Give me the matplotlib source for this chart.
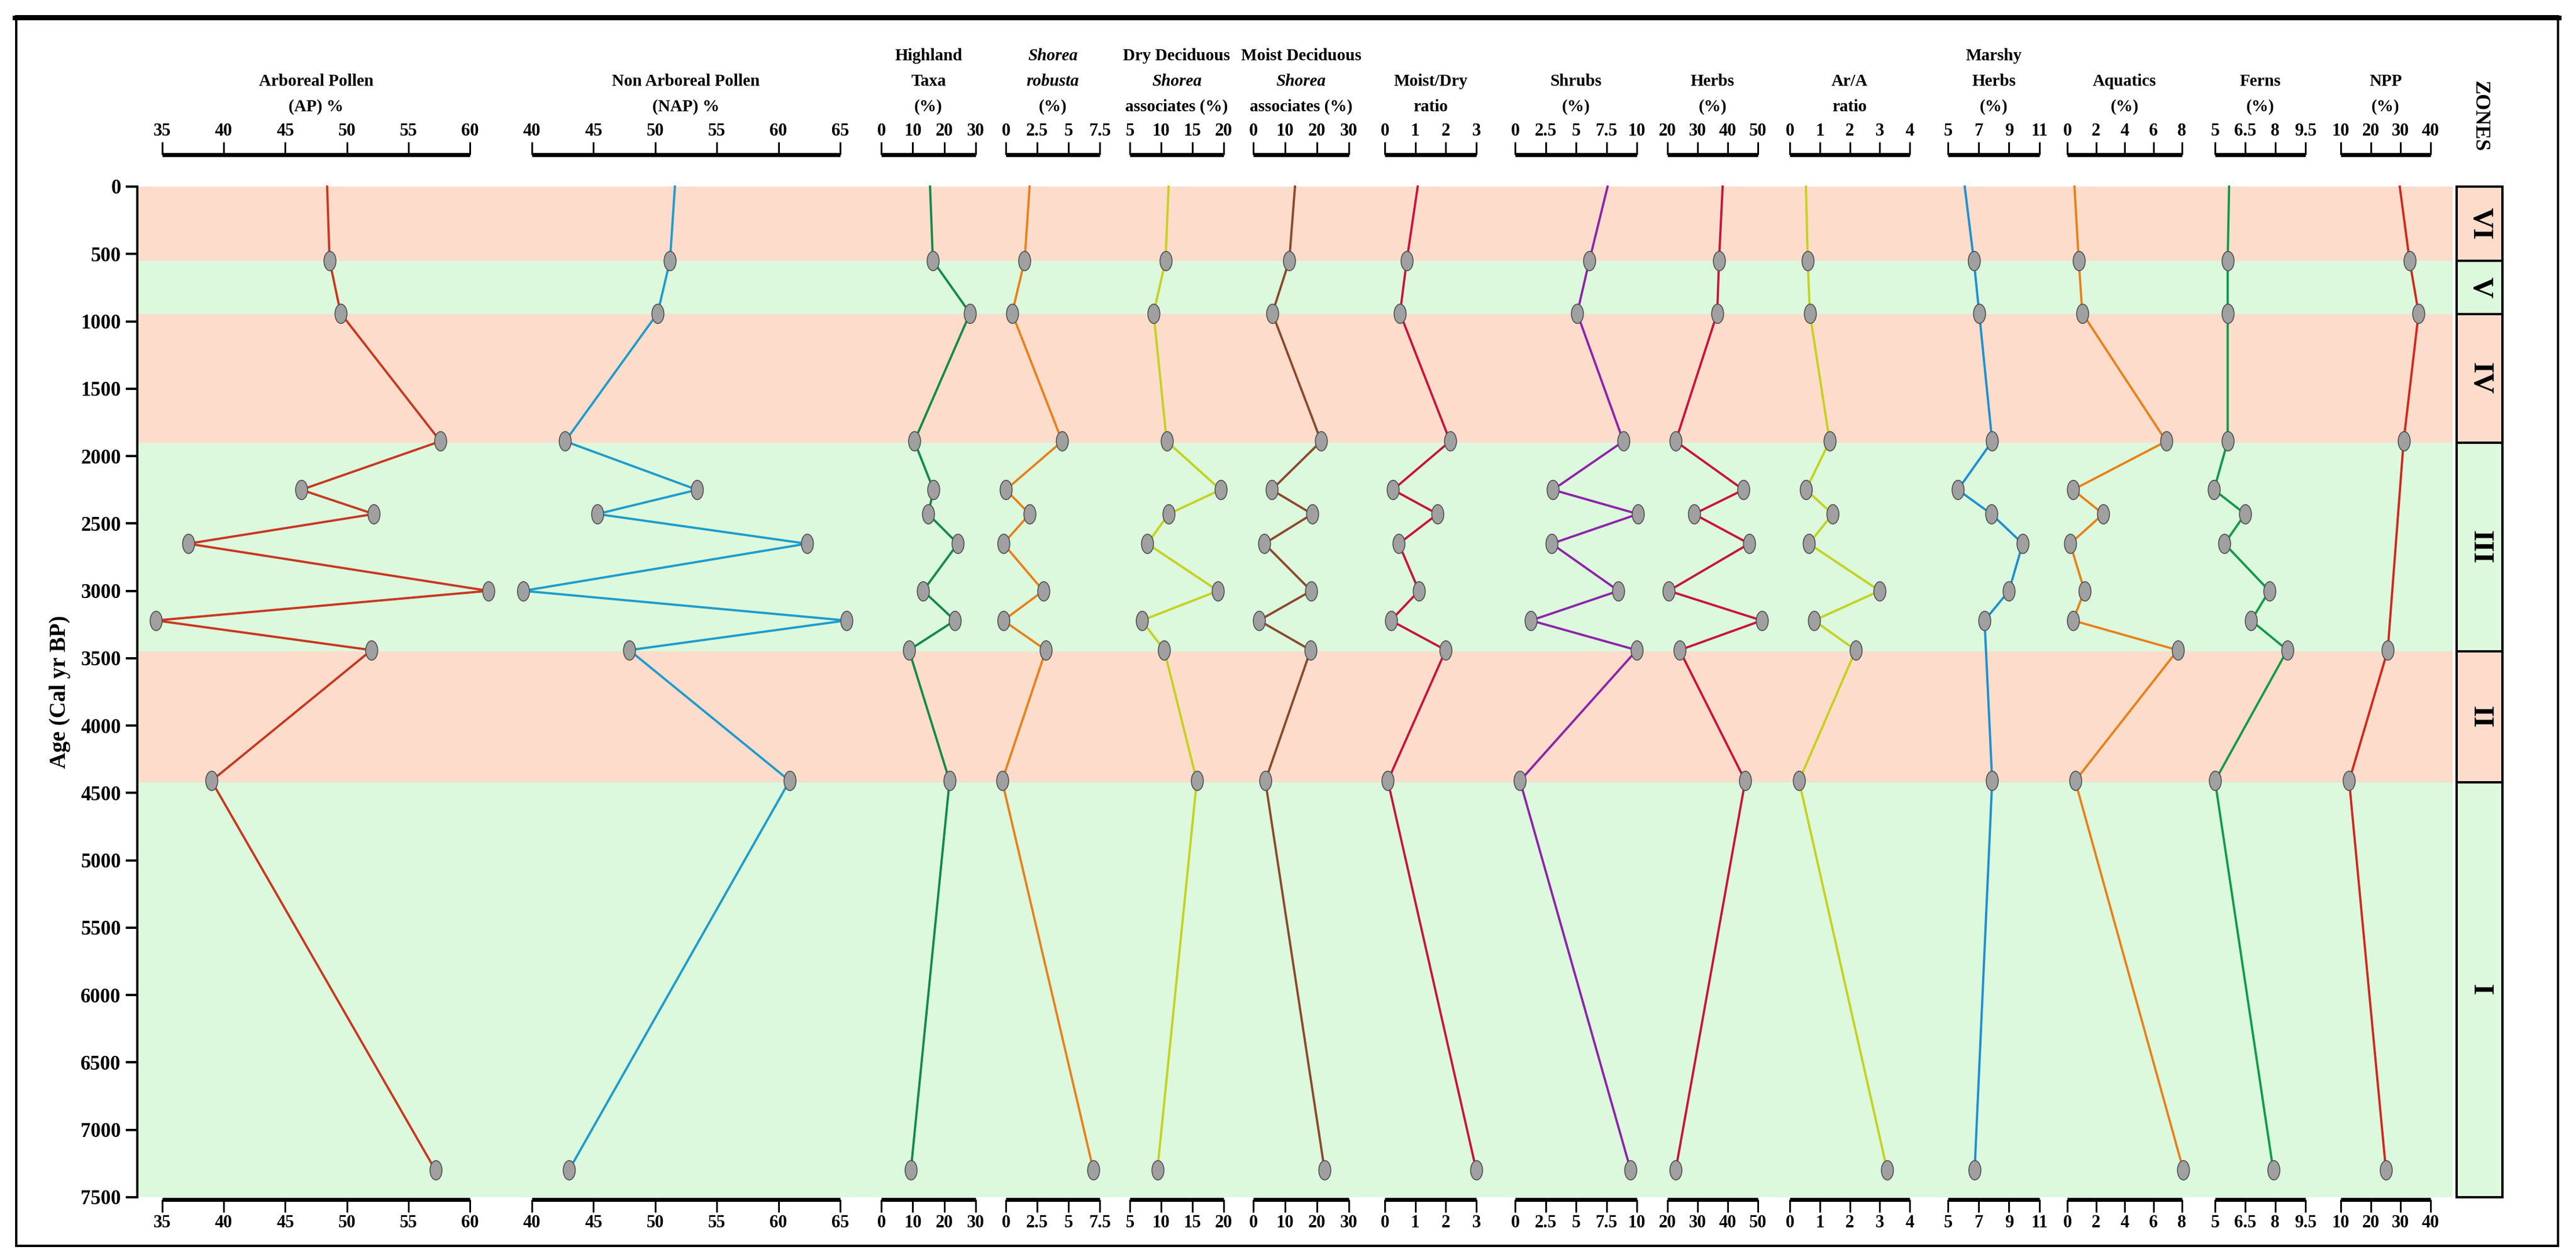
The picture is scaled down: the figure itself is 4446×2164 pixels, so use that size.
import numpy as np
import matplotlib
matplotlib.use("Agg")
import matplotlib.pyplot as plt
from matplotlib.path import Path
from matplotlib.patches import Rectangle

W, H = 4446, 2164
plt.rcParams['font.family'] = ['Liberation Serif', 'DejaVu Serif']
plt.rcParams['font.weight'] = 'bold'

# ---------------- data ----------------
ages = [0, 550, 940, 1890, 2250, 2430, 2650, 3000, 3220, 3440, 4410, 7300]
ap = [48.4, 48.6, 49.5, 57.6, 46.3, 52.2, 37.1, 61.5, 34.5, 52.0, 39.0, 57.2]
nap = [51.6, 51.2, 50.2, 42.7, 53.4, 45.3, 62.3, 39.3, 65.5, 47.9, 60.9, 43.0]
highland = [15.5, 16.4, 28.2, 10.5, 16.6, 14.9, 24.3, 13.3, 23.4, 8.8, 21.7, 9.4]
shorea = [1.9, 1.5, 0.5, 4.5, 0.0, 1.9, -0.2, 3.0, -0.2, 3.2, -0.3, 7.0]
dry_assoc = [11.2, 10.7, 8.8, 10.9, 19.5, 11.2, 7.8, 19.1, 6.9, 10.5, 15.7, 9.4]
moist_assoc = [13.1, 11.3, 6.0, 21.3, 5.8, 18.5, 3.5, 18.2, 1.8, 18.0, 3.8, 22.4]
moist_dry = [1.08, 0.72, 0.5, 2.14, 0.27, 1.73, 0.46, 1.12, 0.2, 2.0, 0.1, 3.0]
shrubs = [7.6, 6.1, 5.1, 8.9, 3.1, 10.1, 3.0, 8.5, 1.3, 10.0, 0.4, 9.5]
herbs = [38.3, 37.1, 36.5, 22.7, 45.2, 28.8, 47.1, 20.4, 51.3, 24.0, 45.8, 22.7]
ar_a = [0.54, 0.6, 0.67, 1.33, 0.54, 1.43, 0.64, 3.0, 0.81, 2.2, 0.31, 3.25]
marshy_ages = [0, 550, 940, 1890, 2250, 2430, 2650, 3000, 3220, 4410, 7300]
marshy = [6.1, 6.7, 7.05, 7.9, 5.65, 7.85, 9.9, 9.0, 7.4, 7.9, 6.75]
aquatics = [0.5, 0.8, 1.05, 6.9, 0.4, 2.5, 0.2, 1.2, 0.4, 7.7, 0.55, 8.1]
ferns = [5.7, 5.63, 5.63, 5.63, 4.95, 6.5, 5.47, 7.7, 6.8, 8.6, 5.0, 7.9]
npp_ages = [0, 550, 940, 1890, 3440, 4410, 7300]
npp = [29.7, 33.0, 36.0, 31.0, 25.7, 12.8, 25.1]

zone_names = ['VI', 'V', 'IV', 'III', 'II', 'I']
zone_bounds = [0, 550, 945, 1900, 3450, 4420, 7500]
zone_colors = ['#FDDCCB', '#DCF8DD', '#FDDCCB', '#DCF8DD', '#FDDCCB', '#DCF8DD']

# panels: (title lines, x0px, x1px, vmin, vmax, ticks, ticklabels, ages, values, colour)
panels = [
    ([('Arboreal Pollen', 'normal'), ('(AP) %', 'normal')], 280, 811, 35, 60,
     [35, 40, 45, 50, 55, 60], None, ages, ap, '#c8381e'),
    ([('Non Arboreal Pollen', 'normal'), ('(NAP) %', 'normal')], 918, 1450, 40, 65,
     [40, 45, 50, 55, 60, 65], None, ages, nap, '#1e9ccc'),
    ([('Highland', 'normal'), ('Taxa', 'normal'), ('(%)', 'normal')], 1521, 1684, 0, 30,
     [0, 10, 20, 30], None, ages, highland, '#138a4a'),
    ([('Shorea', 'italic'), ('robusta', 'italic'), ('(%)', 'normal')], 1736, 1898, 0, 7.5,
     [0, 2.5, 5, 7.5], ['0', '2.5', '5', '7.5'], ages, shorea, '#e8811a'),
    ([('Dry Deciduous', 'normal'), ('Shorea', 'italic'), ('associates (%)', 'normal')], 1950, 2112, 5, 20,
     [5, 10, 15, 20], None, ages, dry_assoc, '#c5d21e'),
    ([('Moist Deciduous', 'normal'), ('Shorea', 'italic'), ('associates (%)', 'normal')], 2163, 2328, 0, 30,
     [0, 10, 20, 30], None, ages, moist_assoc, '#8b4a2b'),
    ([('Moist/Dry', 'normal'), ('ratio', 'normal')], 2390, 2548, 0, 3,
     [0, 1, 2, 3], None, ages, moist_dry, '#c8143c'),
    ([('Shrubs', 'normal'), ('(%)', 'normal')], 2615, 2825, 0, 10,
     [0, 2.5, 5, 7.5, 10], ['0', '2.5', '5', '7.5', '10'], ages, shrubs, '#8e24aa'),
    ([('Herbs', 'normal'), ('(%)', 'normal')], 2878, 3034, 20, 50,
     [20, 30, 40, 50], None, ages, herbs, '#c8143c'),
    ([('Ar/A', 'normal'), ('ratio', 'normal')], 3089, 3296, 0, 4,
     [0, 1, 2, 3, 4], None, ages, ar_a, '#c5d21e'),
    ([('Marshy', 'normal'), ('Herbs', 'normal'), ('(%)', 'normal')], 3362, 3520, 5, 11,
     [5, 7, 9, 11], None, marshy_ages, marshy, '#1e90d0'),
    ([('Aquatics', 'normal'), ('(%)', 'normal')], 3568, 3766, 0, 8,
     [0, 2, 4, 6, 8], None, ages, aquatics, '#e8811a'),
    ([('Ferns', 'normal'), ('(%)', 'normal')], 3823, 3979, 5, 9.5,
     [5, 6.5, 8, 9.5], ['5', '6.5', '8', '9.5'], ages, ferns, '#139a4a'),
    ([('NPP', 'normal'), ('(%)', 'normal')], 4040, 4195, 10, 40,
     [10, 20, 30, 40], None, npp_ages, npp, '#d0281e'),
]

# ---------------- layout ----------------
fig = plt.figure(figsize=(W / 100, H / 100), dpi=100)
PT = 0.72  # points per pixel

def fx(px):
    return px / W

def fy(py):
    return 1 - py / H

ytop, ybot = 322, 2066
xl, xr = 237, 4233

# outer frame
fig.add_artist(Rectangle((fx(28), fy(2150)), fx(4415) - fx(28), fy(28) - fy(2150),
                         transform=fig.transFigure, fill=False, lw=4 * PT, ec='black'))
fig.add_artist(plt.Line2D([fx(26), fx(4417)], [fy(31), fy(31)], transform=fig.transFigure,
                          lw=8 * PT, color='black'))

ax = fig.add_axes([fx(xl), fy(ybot), fx(xr) - fx(xl), fy(ytop) - fy(ybot)])
ax.set_ylim(7500, 0)
ax.set_xlim(0, 1)
for i in range(6):
    ax.axhspan(zone_bounds[i], zone_bounds[i + 1], color=zone_colors[i], lw=0)
for s in ['top', 'right', 'bottom']:
    ax.spines[s].set_visible(False)
ax.spines['left'].set_linewidth(4 * PT)
ax.set_xticks([])
ax.set_yticks(np.arange(0, 7501, 500))
ax.tick_params(axis='y', direction='out', length=20 * PT, width=4 * PT, labelsize=25, pad=6)
for lab in ax.get_yticklabels():
    lab.set_fontweight('bold')
ax.set_ylabel('Age (Cal yr BP)', fontsize=28, fontweight='bold', labelpad=12)

# marker: vertically elongated ellipse
circ = Path.unit_circle()
ell = Path(circ.vertices * np.array([0.62, 1.0]), circ.codes)

for title, x0, x1, vmin, vmax, ticks, tlabels, a, v, col in panels:
    pa = fig.add_axes([fx(x0), fy(ybot), fx(x1) - fx(x0), fy(ytop) - fy(ybot)])
    pa.patch.set_alpha(0)
    pa.set_xlim(vmin, vmax)
    pa.set_ylim(7500, 0)
    pa.set_yticks([])
    pa.spines['left'].set_visible(False)
    pa.spines['right'].set_visible(False)
    pa.spines['top'].set_position(('outward', 55 * PT))
    pa.spines['bottom'].set_position(('outward', 4 * PT))
    for s in ['top', 'bottom']:
        pa.spines[s].set_linewidth(7 * PT)
        pa.spines[s].set_capstyle('butt')
    pa.set_xticks(ticks)
    if tlabels is not None:
        pa.set_xticklabels(tlabels)
    pa.tick_params(axis='x', top=True, bottom=True, labeltop=True, labelbottom=True,
                   direction='out', length=22 * PT, width=3 * PT, labelsize=22, pad=3)
    for lab in pa.get_xticklabels():
        lab.set_fontweight('bold')
    pa.plot(v, a, color=col, lw=2.8, clip_on=False, zorder=3)
    pa.plot(v[1:], a[1:], ls='none', marker=ell, markersize=24, markerfacecolor='#a0a0a0',
            markeredgecolor='#505050', markeredgewidth=1.2, clip_on=False, zorder=4)
    # title lines
    cx = fx((x0 + x1) / 2)
    n = len(title)
    for k, (txt, st) in enumerate(title):
        ypx = 192 - (n - 1 - k) * 44
        fig.text(cx, fy(ypx), txt, ha='center', va='baseline', fontsize=21,
                 fontweight='bold', fontstyle=st)

# zone column
for i in range(6):
    y0, y1 = zone_bounds[i], zone_bounds[i + 1]
    fy0 = fy(ytop + (y1 / 7500) * (ybot - ytop))
    fy1 = fy(ytop + (y0 / 7500) * (ybot - ytop))
    fig.add_artist(Rectangle((fx(4240), fy0), fx(4319) - fx(4240), fy1 - fy0,
                             transform=fig.transFigure, fc=zone_colors[i], ec='black', lw=4 * PT))
    fig.text(fx(4280), (fy0 + fy1) / 2, zone_names[i], rotation=-90, ha='center', va='center',
             fontsize=36, fontweight='bold')
fig.text(fx(4280), fy(200), 'ZONES', rotation=-90, ha='center', va='center',
         fontsize=26, fontweight='bold')

fig.savefig('out.png', dpi=100)
